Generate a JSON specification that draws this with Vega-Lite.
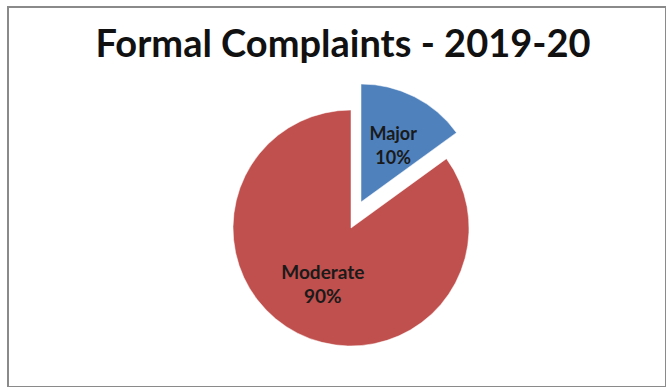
{
  "$schema": "https://vega.github.io/schema/vega-lite/v6.json",
  "width": 658,
  "height": 380,
  "autosize": {"type": "none"},
  "padding": {"left": 8, "top": 7, "right": 0, "bottom": 0},
  "background": "white",
  "view": {"stroke": "#8a8a8a", "strokeWidth": 2},
  "title": {
    "text": "Formal Complaints - 2019-20",
    "font": "Lato",
    "fontSize": 38,
    "fontWeight": "bold",
    "color": "#111111",
    "anchor": "middle",
    "frame": "group",
    "offset": 0,
    "dx": 6,
    "dy": 58
  },
  "config": {
    "text": {"lineBreak": "\n"}
  },
  "data": {
    "values": [
      {"category": "Major", "value": 15, "label": "Major\n10%"},
      {"category": "Moderate", "value": 85, "label": "Moderate\n90%"}
    ]
  },
  "encoding": {
    "theta": {"field": "value", "type": "quantitative", "stack": true},
    "order": {"field": "category", "type": "nominal"}
  },
  "layer": [
    {
      "mark": {"type": "arc", "radius": 118, "xOffset": 14, "yOffset": 31, "stroke": "#ffffff", "strokeWidth": 0.5},
      "encoding": {
        "color": {
          "field": "category",
          "type": "nominal",
          "scale": {"domain": ["Major", "Moderate"], "range": ["#4F81BD", "#C0504D"]},
          "legend": null
        },
        "opacity": {"condition": {"test": "datum.category === 'Moderate'", "value": 1}, "value": 0}
      }
    },
    {
      "mark": {"type": "arc", "radius": 118, "xOffset": 24, "yOffset": 5, "stroke": "#ffffff", "strokeWidth": 0.5},
      "encoding": {
        "color": {"field": "category", "type": "nominal", "legend": null},
        "opacity": {"condition": {"test": "datum.category === 'Major'", "value": 1}, "value": 0}
      }
    },
    {
      "mark": {"type": "text", "radius": 62, "xOffset": 14, "yOffset": 31, "dx": 0, "dy": -10, "font": "Lato", "fontSize": 19, "fontWeight": "bold", "color": "#1a1a1a", "lineHeight": 24, "align": "center", "baseline": "middle"},
      "encoding": {
        "text": {"field": "label", "type": "nominal"},
        "opacity": {"condition": {"test": "datum.category === 'Moderate'", "value": 1}, "value": 0}
      }
    },
    {
      "mark": {"type": "text", "radius": 62, "xOffset": 24, "yOffset": 5, "dx": 4, "dy": -12, "font": "Lato", "fontSize": 18, "fontWeight": "bold", "color": "#1a1a1a", "lineHeight": 24, "align": "center", "baseline": "middle"},
      "encoding": {
        "text": {"field": "label", "type": "nominal"},
        "opacity": {"condition": {"test": "datum.category === 'Major'", "value": 1}, "value": 0}
      }
    }
  ]
}
